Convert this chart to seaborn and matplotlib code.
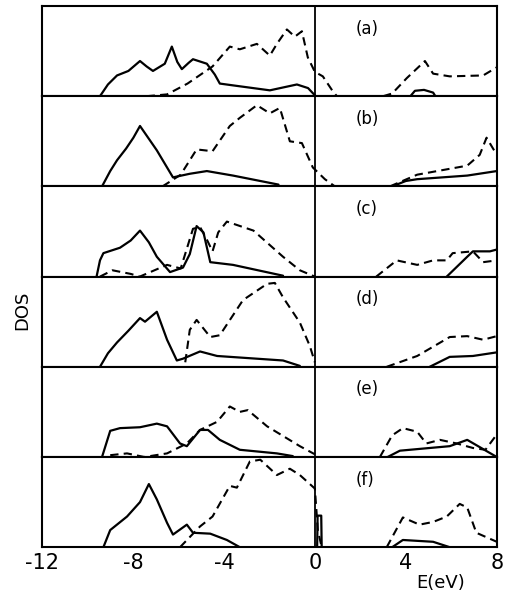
import matplotlib
matplotlib.use('Agg')
import matplotlib.pyplot as plt
import seaborn as sns
import pandas as pd

# DOS curves: (E in eV, DOS in panel units 0..1)
panel_labels = ['(a)', '(b)', '(c)', '(d)', '(e)', '(f)']
x_ticks = [-12, -8, -4, 0, 4, 8]

a_solid = [(-9.45, 0), (-9.1, 0.13), (-8.7, 0.23), (-8.2, 0.28), (-7.69, 0.39), (-7.4, 0.33), (-7.12, 0.28),
           (-6.6, 0.36), (-6.29, 0.55), (-6.05, 0.38), (-5.85, 0.30), (-5.55, 0.37), (-5.36, 0.41),
           (-4.75, 0.36), (-4.4, 0.24), (-4.18, 0.14), (-3.6, 0.12), (-1.98, 0.065), (-0.79, 0.13),
           (-0.3, 0.09), (0, 0.01)]
a_solid_cb = [(4.2, 0), (4.4, 0.06), (4.8, 0.07), (5.2, 0.04), (5.3, 0)]
a_dash = [(-7.4, 0), (-6.5, 0.02), (-5.6, 0.14), (-4.5, 0.33), (-3.74, 0.55), (-3.3, 0.52), (-2.55, 0.58),
          (-1.98, 0.45), (-1.67, 0.58), (-1.23, 0.74), (-0.88, 0.66), (-0.57, 0.72), (-0.31, 0.43),
          (0, 0.27), (0.35, 0.22), (0.8, 0.05), (0.97, 0)]
a_dash_cb = [(3.0, 0.0), (3.4, 0.03), (4.04, 0.2), (4.84, 0.39), (5.2, 0.25), (5.93, 0.22), (7.4, 0.23), (8, 0.32)]

b_solid = [(-9.36, 0), (-9.0, 0.17), (-8.7, 0.29), (-8.3, 0.42), (-7.98, 0.54), (-7.69, 0.67),
           (-6.95, 0.40), (-6.24, 0.10), (-5.5, 0.14), (-4.75, 0.17), (-3.6, 0.12), (-1.6, 0.02)]
b_solid_cb = [(3.4, 0), (4.0, 0.06), (4.5, 0.08), (6.7, 0.12), (8, 0.17)]
b_dash = [(-6.7, 0), (-5.9, 0.13), (-5.2, 0.41), (-4.5, 0.39), (-3.74, 0.67), (-3.3, 0.76), (-2.55, 0.90),
          (-1.98, 0.81), (-1.54, 0.87), (-1.1, 0.5), (-0.57, 0.48), (-0.09, 0.21), (0.44, 0.08), (0.88, 0)]
b_dash_cb = [(3.3, 0), (4.5, 0.13), (6.7, 0.23), (7.25, 0.35), (7.55, 0.54), (8, 0.35)]

c_solid = [(-9.6, 0), (-9.45, 0.18), (-9.3, 0.26), (-8.57, 0.32), (-8.1, 0.40), (-7.69, 0.51),
           (-7.3, 0.38), (-6.95, 0.22), (-6.37, 0.05), (-5.8, 0.10), (-5.5, 0.25), (-5.2, 0.56),
           (-4.9, 0.49), (-4.6, 0.16), (-3.6, 0.13), (-1.4, 0.01)]
c_solid_cb = [(5.8, 0), (6.7, 0.22), (6.95, 0.28), (7.7, 0.28), (8, 0.30)]
c_dash = [(-9.45, 0), (-8.9, 0.07), (-8.1, 0.03), (-7.7, 0), (-6.5, 0.13), (-5.9, 0.09), (-5.36, 0.53),
          (-5.05, 0.55), (-4.75, 0.41), (-4.5, 0.28), (-4.25, 0.49), (-3.87, 0.61), (-2.7, 0.51),
          (-1.4, 0.22), (-0.66, 0.07), (0, 0)]
c_dash_cb = [(2.7, 0), (3.6, 0.18), (4.5, 0.13), (5.2, 0.18), (5.8, 0.18), (6.06, 0.26), (6.95, 0.28),
             (7.4, 0.16), (8, 0.18)]

d_solid = [(-9.45, 0), (-9.1, 0.15), (-8.7, 0.27), (-8.2, 0.40), (-7.69, 0.54), (-7.47, 0.50),
           (-6.95, 0.61), (-6.5, 0.30), (-6.07, 0.07), (-5.8, 0.09), (-5.05, 0.17), (-4.3, 0.12),
           (-1.4, 0.07), (-0.66, 0.01)]
d_solid_cb = [(5.05, 0), (5.93, 0.11), (6.95, 0.12), (8, 0.16)]
d_dash = [(-5.7, 0.05), (-5.5, 0.41), (-5.2, 0.52), (-4.6, 0.33), (-4.18, 0.35), (-3.16, 0.74), (-2.1, 0.92),
          (-1.76, 0.93), (-1.4, 0.77), (-0.66, 0.49), (-0.22, 0.23), (0, 0.05)]
d_dash_cb = [(3.16, 0), (4.5, 0.12), (5.93, 0.33), (6.7, 0.34), (7.4, 0.30), (8, 0.34)]

e_solid = [(-9.36, 0), (-9.0, 0.29), (-8.57, 0.32), (-7.69, 0.33), (-6.95, 0.37), (-6.5, 0.34), (-5.93, 0.15),
           (-5.63, 0.12), (-5.05, 0.30), (-4.7, 0.30), (-4.18, 0.19), (-3.3, 0.08), (-1.67, 0.04), (-0.97, 0.01)]
e_solid_cb = [(3.2, 0), (3.74, 0.07), (5.93, 0.12), (6.7, 0.19), (8, 0)]
e_dash = [(-9.0, 0.02), (-8.26, 0.04), (-7.5, 0), (-6.5, 0.04), (-5.63, 0.15), (-5.05, 0.30), (-4.3, 0.39),
          (-3.74, 0.56), (-3.3, 0.5), (-2.95, 0.52), (-2.1, 0.34), (-0.66, 0.12), (0, 0.03)]
e_dash_cb = [(2.86, 0), (3.4, 0.24), (3.87, 0.32), (4.5, 0.28), (4.9, 0.15), (5.5, 0.19), (6.24, 0.15),
             (6.95, 0.1), (7.5, 0.08), (8, 0.25)]

f_solid = [(-9.3, 0), (-9.0, 0.19), (-8.26, 0.34), (-7.69, 0.5), (-7.3, 0.70), (-6.95, 0.53), (-6.5, 0.27),
           (-6.24, 0.14), (-5.63, 0.25), (-5.36, 0.16), (-4.6, 0.15), (-3.87, 0.08), (-3.3, 0)]
f_solid_gap = [(0.1, 0), (0.12, 0.35), (0.28, 0.35), (0.3, 0)]
f_solid_cb = [(3.4, 0), (3.87, 0.08), (5.2, 0.06), (5.93, 0)]
f_dash = [(-5.93, 0), (-5.05, 0.23), (-4.5, 0.34), (-3.74, 0.68), (-3.43, 0.66), (-2.86, 0.95), (-2.4, 0.97),
          (-1.67, 0.80), (-1.1, 0.87), (-0.66, 0.80), (0, 0.65), (0.13, 0.19), (0.3, 0)]
f_dash_cb = [(3.16, 0), (3.87, 0.33), (4.6, 0.25), (5.2, 0.28), (5.8, 0.34), (6.37, 0.48), (6.7, 0.44),
             (7.1, 0.16), (8, 0.06)]

solid_curves = [[a_solid, a_solid_cb], [b_solid, b_solid_cb], [c_solid, c_solid_cb],
                [d_solid, d_solid_cb], [e_solid, e_solid_cb], [f_solid, f_solid_gap, f_solid_cb]]
dash_curves = [[a_dash, a_dash_cb], [b_dash, b_dash_cb], [c_dash, c_dash_cb],
               [d_dash, d_dash_cb], [e_dash, e_dash_cb], [f_dash, f_dash_cb]]

sns.set_style('white')
plt.rcParams['font.family'] = ['DejaVu Sans']
plt.rcParams['axes.unicode_minus'] = False
plt.rcParams['text.color'] = 'black'
plt.rcParams['xtick.color'] = 'black'
plt.rcParams['axes.labelcolor'] = 'black'

fig, axes = plt.subplots(6, 1, figsize=(5.09, 6.0), dpi=100, sharex=True)
fig.subplots_adjust(left=0.0825, right=0.976, top=0.99, bottom=0.088, hspace=0)

for i, ax in enumerate(axes):
    for pts in solid_curves[i]:
        df = pd.DataFrame(pts, columns=['E', 'DOS'])
        sns.lineplot(data=df, x='E', y='DOS', ax=ax, color='black', lw=1.6,
                     sort=False, estimator=None, solid_joinstyle='round')
    for pts in dash_curves[i]:
        df = pd.DataFrame(pts, columns=['E', 'DOS'])
        sns.lineplot(data=df, x='E', y='DOS', ax=ax, color='black', lw=1.5,
                     sort=False, estimator=None, linestyle=(0, (4, 2.5)),
                     dash_joinstyle='round')
    ax.axvline(0, color='black', lw=1.3)
    ax.set_xlim(-12, 8)
    ax.set_ylim(0, 1.0)
    ax.set_yticks([])
    ax.set_ylabel('')
    ax.set_xlabel('')
    ax.set_xticks(x_ticks)
    ax.set_xticks(range(-12, 9, 2), minor=True)
    ax.tick_params(axis='x', which='both', direction='in', length=3, width=1.2,
                   labelsize=15, pad=4, colors='black')
    for sp in ax.spines.values():
        sp.set_linewidth(1.5)
        sp.set_color('black')
    ax.text(0.69, 0.75, panel_labels[i], transform=ax.transAxes, fontsize=12,
            ha='left', va='center')

axes[-1].set_xticklabels([str(t) for t in x_ticks])
axes[-1].set_xlabel('E(eV)', fontsize=13)
axes[-1].xaxis.set_label_coords(0.877, -0.3)

fig.text(0.043, 0.483, 'DOS', rotation=90, fontsize=13, ha='center', va='center')

fig.savefig('out.png', dpi=100)
